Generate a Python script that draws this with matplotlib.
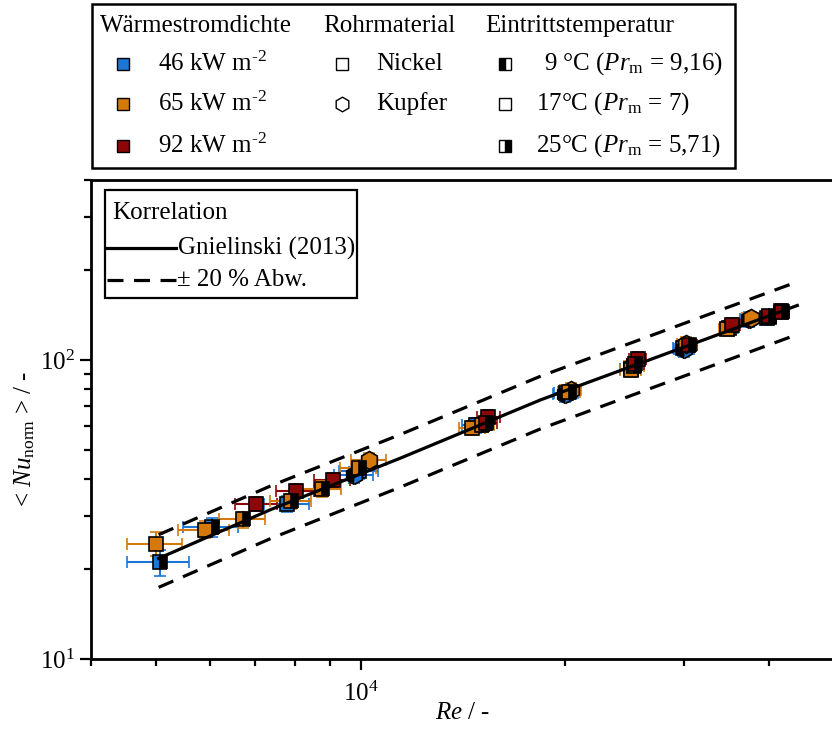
import numpy as np
import matplotlib
matplotlib.use("Agg")
import matplotlib.pyplot as plt
from matplotlib.lines import Line2D
from matplotlib.patches import Rectangle
from matplotlib.ticker import LogLocator, NullFormatter

plt.rcParams['font.family'] = ['Liberation Serif', 'DejaVu Serif']
plt.rcParams['mathtext.fontset'] = 'custom'
plt.rcParams['mathtext.rm'] = 'Liberation Serif'
plt.rcParams['mathtext.it'] = 'Liberation Serif:italic'
plt.rcParams['mathtext.bf'] = 'Liberation Serif:bold'
plt.rcParams['font.size'] = 18

BLUE = '#1b76d4'
ORANGE = '#d57a0a'
RED = '#8c0707'

# Gnielinski (2013) correlation
gn_re = [5040, 7370, 11455, 18425, 44000]
gn_nu = [21.7, 31.6, 47.0, 73.6, 152.2]

# 46 kW m-2
b_ni25_re = [5060, 6040]
b_ni25_nu = [21.1, 27.6]
b_ni25_xe = [530, 560]
b_ni25_ye = [2.1, 2.0]
b_ni17_re = [7800, 9950, 14800, 20100, 25000, 29900, 34900, 39700]
b_ni17_nu = [33.0, 42.5, 60.5, 77.5, 93.5, 110, 128, 138.5]
b_ni17_xe = [600, 650, 700, 800, 900, 1000, 1100, 1200]
b_ni17_ye = [2.0, 2.5, 3.5, 4.5, 5.5, 6.5, 7.5, 8.0]
b_cu9_re = [9780, 20000, 30000, 37300]
b_cu9_nu = [41.4, 77.0, 109, 137]
b_cu9_xe = [650, 800, 1000, 1100]
b_cu9_ye = [2.5, 4.5, 6.5, 8.0]

# 65 kW m-2
o_ni17_re = [4990, 5890, 14600, 25000, 34700]
o_ni17_nu = [24.3, 27.1, 59.2, 92.5, 127]
o_ni17_xe = [470, 500, 650, 850, 1000]
o_ni17_ye = [2.2, 1.8, 3.2, 5.0, 7.0]
o_ni25_re = [6700, 7910, 8780, 9940, 15100, 20300, 25300]
o_ni25_nu = [29.3, 33.7, 37.1, 43.6, 60.5, 78.4, 95.5]
o_ni25_xe = [520, 550, 580, 600, 650, 750, 850]
o_ni25_ye = [1.8, 2.0, 2.2, 2.5, 3.2, 4.2, 5.0]
o_cu17_re = [10290, 20400, 30200, 37550]
o_cu17_nu = [46.4, 79.5, 113, 137.8]
o_cu17_xe = [600, 750, 950, 1050]
o_cu17_ye = [2.5, 4.0, 6.0, 7.0]

# 92 kW m-2
r_ni17_re = [7020, 8020, 9100, 15430, 25600, 35300, 39950, 41700]
r_ni17_nu = [33.1, 36.5, 39.8, 64.6, 101, 131, 139, 146]
r_ni17_xe = [500, 520, 550, 600, 750, 900, 950, 1000]
r_ni17_ye = [1.8, 2.0, 2.2, 3.5, 5.5, 7.0, 7.5, 8.0]
r_ni25_re = [15300, 25400, 30500, 40000, 41800]
r_ni25_nu = [61.5, 97, 112, 140, 145]
r_ni25_xe = [600, 750, 850, 950, 1000]
r_ni25_ye = [3.3, 5.2, 6.0, 7.5, 8.0]

W, H = 832, 745


def fx(x):
    return x / W


def fy(y):
    return 1 - y / H


fig = plt.figure(figsize=(W / 100, H / 100), dpi=100)
ax = fig.add_axes([fx(90.5), fy(659), fx(835) - fx(90.5), (659 - 180) / H])
ax.set_xscale('log')
ax.set_yscale('log')


def series(re, nu, xe, ye, col, marker, fill):
    ms = 10.5 if marker == 's' else 13
    ax.errorbar(re, nu, xerr=xe, yerr=ye, fmt=marker, ms=ms, mfc='black' if fill != 'full' else col,
                mfcalt=col, fillstyle=fill, mec='black', mew=1.2, ecolor=col, elinewidth=1.5,
                capsize=4, capthick=1.5, zorder=3)


series(b_ni17_re, b_ni17_nu, b_ni17_xe, b_ni17_ye, BLUE, 's', 'full')
series(b_cu9_re, b_cu9_nu, b_cu9_xe, b_cu9_ye, BLUE, 'h', 'left')
series(b_ni25_re, b_ni25_nu, b_ni25_xe, b_ni25_ye, BLUE, 's', 'right')
series(o_ni17_re, o_ni17_nu, o_ni17_xe, o_ni17_ye, ORANGE, 's', 'full')
series(o_cu17_re, o_cu17_nu, o_cu17_xe, o_cu17_ye, ORANGE, 'h', 'full')
series(r_ni17_re, r_ni17_nu, r_ni17_xe, r_ni17_ye, RED, 's', 'full')
series(o_ni25_re, o_ni25_nu, o_ni25_xe, o_ni25_ye, ORANGE, 's', 'right')
series(r_ni25_re, r_ni25_nu, r_ni25_xe, r_ni25_ye, RED, 's', 'right')

gn = np.array(gn_nu)
ax.plot(gn_re, gn, color='black', lw=2.3, zorder=4)
ax.plot(gn_re, gn * 1.2, color='black', lw=2.3, dashes=(5, 3.3), zorder=4)
ax.plot(gn_re, gn * 0.8, color='black', lw=2.3, dashes=(5, 3.3), zorder=4)

ax.set_xlim(4000, 50000)
ax.set_ylim(10, 400)
ax.yaxis.set_minor_locator(LogLocator(base=10, subs=np.arange(2, 10)))
ax.xaxis.set_minor_formatter(NullFormatter())
ax.yaxis.set_minor_formatter(NullFormatter())
ax.tick_params(which='both', direction='out', width=1.6, labelsize=18)
ax.tick_params(which='major', length=8)
ax.tick_params(which='minor', length=5)
ax.tick_params(axis='x', which='major', pad=8)
ax.tick_params(axis='y', which='major', pad=3)
for s in ax.spines.values():
    s.set_linewidth(2)

ax.set_xlabel(r'$Re$ / -', fontsize=18)
ax.set_ylabel(r'< $Nu_{\mathrm{norm}}$ > / -', fontsize=18)
ax.xaxis.set_label_coords(0.5, -0.09)
ax.yaxis.set_label_coords(-0.072, 0.46)

# inner legend
fig.add_artist(Rectangle((fx(105), fy(298)), fx(357) - fx(105), (298 - 190) / H,
                         transform=fig.transFigure, fill=False, ec='black', lw=1.6))
fig.text(fx(112), fy(213), 'Korrelation', ha='left', va='center')
fig.add_artist(Line2D([fx(107), fx(176)], [fy(248), fy(248)], transform=fig.transFigure,
                      color='black', lw=2.3))
fig.text(fx(178), fy(248), 'Gnielinski (2013)', ha='left', va='center')
fig.add_artist(Line2D([fx(107), fx(176)], [fy(280), fy(280)], transform=fig.transFigure,
                      color='black', lw=2.3, dashes=(5, 3.3)))
fig.text(fx(177), fy(280), '± 20 % Abw.', ha='left', va='center')

# top legend
fig.add_artist(Rectangle((fx(92), fy(168)), fx(735) - fx(92), (168 - 4) / H,
                         transform=fig.transFigure, fill=False, ec='black', lw=1.8))


def lmark(x, y, marker, face, alt='white', fill='full', ms=8.5):
    fig.add_artist(Line2D([fx(x)], [fy(y)], transform=fig.transFigure, marker=marker, ms=ms,
                          mfc=face, mfcalt=alt, fillstyle=fill, mec='black', mew=1.0, ls='none'))


rows = [64, 104, 146]
fig.text(fx(100), fy(26), 'Wärmestromdichte', ha='left', va='center')
fig.text(fx(323), fy(26), 'Rohrmaterial', ha='left', va='center')
fig.text(fx(485), fy(26), 'Eintrittstemperatur', ha='left', va='center')

for y, col, lab in zip(rows, [BLUE, ORANGE, RED], ['46', '65', '92']):
    lmark(123, y, 's', col)
    fig.text(fx(158), fy(y), lab + r' kW m$^{\text{-2}}$', ha='left', va='center')

lmark(342, rows[0], 's', 'white')
fig.text(fx(376), fy(rows[0]), 'Nickel', ha='left', va='center')
lmark(342, rows[1], 'h', 'white', ms=10.5)
fig.text(fx(376), fy(rows[1]), 'Kupfer', ha='left', va='center')

lmark(505, rows[0], 's', 'black', 'white', 'left')
fig.text(fx(544), fy(rows[0]), r'9 °C ($Pr_{\mathrm{m}}$ = 9,16)', ha='left', va='center')
lmark(505, rows[1], 's', 'white')
fig.text(fx(536), fy(rows[1]), r'17°C ($Pr_{\mathrm{m}}$ = 7)', ha='left', va='center')
lmark(505, rows[2], 's', 'black', 'white', 'right')
fig.text(fx(536), fy(rows[2]), r'25°C ($Pr_{\mathrm{m}}$ = 5,71)', ha='left', va='center')

fig.savefig('out.png', dpi=100)
